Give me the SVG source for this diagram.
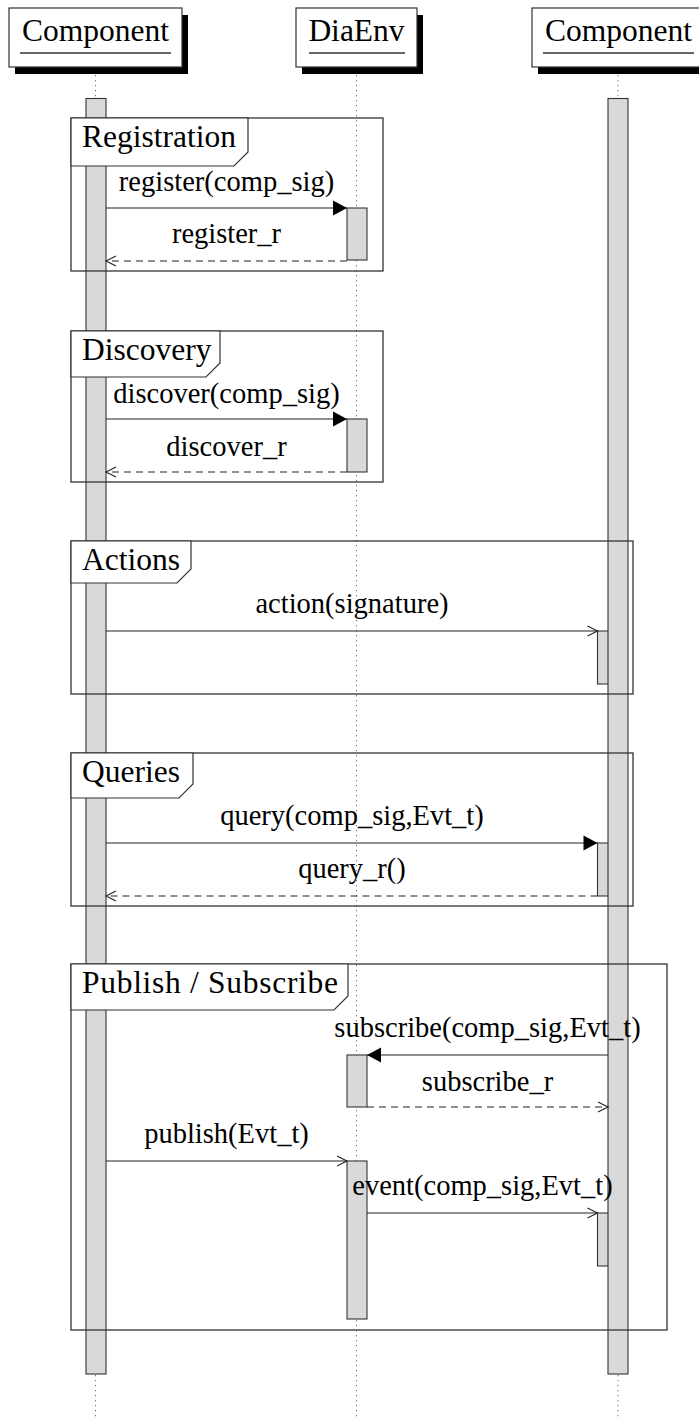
<svg xmlns="http://www.w3.org/2000/svg" width="699" height="1417" viewBox="0 0 699 1417">
<style>
  .txt { font-family: "Liberation Serif", "Times New Roman", serif; fill: #000; }
  .hdr { font-size: 31.5px; text-anchor: middle; }
  .lbl { font-size: 31.5px; }
  .msg { font-size: 28.5px; text-anchor: middle; }
  .life { stroke: #777; stroke-width: 1; stroke-dasharray: 1.3 3.7; fill: none; }
  .hbox { fill: #fff; stroke: #333; stroke-width: 1.2; }
  .shadow { fill: #000; }
  .uline { stroke: #333; stroke-width: 1.3; }
  .bar { fill: #d9d9d9; stroke: #333; stroke-width: 1.1; }
  .frame { fill: none; stroke: #333; stroke-width: 1.3; }
  .tab { fill: #fff; stroke: #333; stroke-width: 1.2; }
  .m { stroke: #222; stroke-width: 1.1; fill: none; }
  .ret { stroke-dasharray: 7 5; }
</style>
<defs>
  <marker id="filled" markerUnits="userSpaceOnUse" markerWidth="14" markerHeight="15" refX="14" refY="7.5" orient="auto" overflow="visible">
    <path d="M0,0 L14,7.5 L0,15 z" fill="#000" stroke="none"/>
  </marker>
  <marker id="open" markerUnits="userSpaceOnUse" markerWidth="12" markerHeight="12" refX="10" refY="5" orient="auto" overflow="visible">
    <path d="M0,0 L10,5 L0,10" fill="none" stroke="#222" stroke-width="1.1" stroke-dasharray="none"/>
  </marker>
</defs>
<rect x="0" y="0" width="699" height="1417" fill="#fff"/>

<g id="lifelines">
  <line class="life" x1="95.5" y1="75" x2="95.5" y2="1417"/>
  <line class="life" x1="356.5" y1="75" x2="356.5" y2="1417"/>
  <line class="life" x1="618" y1="75" x2="618" y2="1417"/>
</g>

<g id="comp-left">
  <rect class="shadow" x="15" y="15" width="173" height="59"/>
  <rect class="hbox" x="9" y="8" width="173" height="59"/>
  <text class="txt hdr" x="95.5" y="41">Component</text>
  <line class="uline" x1="20" y1="53" x2="171" y2="53"/>
</g>
<g id="diaenv">
  <rect class="shadow" x="302" y="15" width="121" height="59"/>
  <rect class="hbox" x="296" y="8" width="121" height="59"/>
  <text class="txt hdr" x="356.5" y="41">DiaEnv</text>
  <line class="uline" x1="309" y1="53" x2="405" y2="53"/>
</g>
<g id="comp-right">
  <rect class="shadow" x="538" y="15" width="173" height="59"/>
  <rect class="hbox" x="532" y="8" width="173" height="59"/>
  <text class="txt hdr" x="618.5" y="41">Component</text>
  <line class="uline" x1="543" y1="53" x2="694" y2="53"/>
</g>

<g id="activations">
  <rect class="bar" x="597.5" y="631" width="20" height="53"/>
  <rect class="bar" x="597.5" y="843" width="20" height="53"/>
  <rect class="bar" x="597.5" y="1213" width="20" height="53"/>
  <rect id="bar-left" class="bar" x="86" y="98.5" width="20" height="1275.5"/>
  <rect id="bar-right" class="bar" x="608" y="98.5" width="20" height="1275.5"/>
  <rect class="bar" x="347" y="208" width="20" height="52"/>
  <rect class="bar" x="347" y="419" width="20" height="53"/>
  <rect class="bar" x="347" y="1055" width="20" height="52"/>
  <rect class="bar" x="347" y="1161" width="20" height="158"/>
</g>

<g id="frame-registration">
  <rect class="frame" x="71" y="118" width="312" height="153"/>
  <path class="tab" d="M71,118 H248 V152 L234,166 H71 Z"/>
  <text class="txt lbl" x="82" y="147">Registration</text>
</g>
<g id="frame-discovery">
  <rect class="frame" x="71" y="331" width="312" height="151"/>
  <path class="tab" d="M71,331 H220 V363 L206,377 H71 Z"/>
  <text class="txt lbl" x="82" y="360">Discovery</text>
</g>
<g id="frame-actions">
  <rect class="frame" x="71" y="541" width="562" height="153"/>
  <path class="tab" d="M71,541 H191 V569 L177,583 H71 Z"/>
  <text class="txt lbl" x="82" y="570">Actions</text>
</g>
<g id="frame-queries">
  <rect class="frame" x="71" y="753" width="562" height="153"/>
  <path class="tab" d="M71,753 H193 V784 L179,798 H71 Z"/>
  <text class="txt lbl" x="82" y="782">Queries</text>
</g>
<g id="frame-pubsub">
  <rect class="frame" x="71" y="964" width="596" height="366"/>
  <path class="tab" d="M71,964 H348 V996 L334,1010 H71 Z"/>
  <text class="txt lbl" x="82" y="993" textLength="256" lengthAdjust="spacing">Publish / Subscribe</text>
</g>

<g id="connectors">
  <line class="m" x1="106" y1="208" x2="347" y2="208" marker-end="url(#filled)"/>
  <line class="m ret" x1="347" y1="261" x2="106" y2="261" marker-end="url(#open)"/>
  <line class="m" x1="106" y1="419" x2="347" y2="419" marker-end="url(#filled)"/>
  <line class="m ret" x1="347" y1="472" x2="106" y2="472" marker-end="url(#open)"/>
  <line class="m" x1="106" y1="631" x2="597.5" y2="631" marker-end="url(#open)"/>
  <line class="m" x1="106" y1="843" x2="597.5" y2="843" marker-end="url(#filled)"/>
  <line class="m ret" x1="597.5" y1="896" x2="106" y2="896" marker-end="url(#open)"/>
  <line class="m" x1="608" y1="1055" x2="367" y2="1055" marker-end="url(#filled)"/>
  <line class="m ret" x1="367" y1="1107" x2="608" y2="1107" marker-end="url(#open)"/>
  <line class="m" x1="106" y1="1161" x2="347" y2="1161" marker-end="url(#open)"/>
  <line class="m" x1="367" y1="1213" x2="597.5" y2="1213" marker-end="url(#open)"/>
</g>

<g id="labels">
  <text class="txt msg" x="226.5" y="191">register(comp_sig)</text>
  <text class="txt msg" x="226.5" y="243">register_r</text>
  <text class="txt msg" x="226.5" y="403">discover(comp_sig)</text>
  <text class="txt msg" x="226.5" y="456">discover_r</text>
  <text class="txt msg" x="352" y="613">action(signature)</text>
  <text class="txt msg" x="352" y="825">query(comp_sig,Evt_t)</text>
  <text class="txt msg" x="352" y="878">query_r()</text>
  <text class="txt msg" x="487.5" y="1037">subscribe(comp_sig,Evt_t)</text>
  <text class="txt msg" x="487.5" y="1091">subscribe_r</text>
  <text class="txt msg" x="226.5" y="1143">publish(Evt_t)</text>
  <text class="txt msg" x="482.5" y="1195">event(comp_sig,Evt_t)</text>
</g>
</svg>
